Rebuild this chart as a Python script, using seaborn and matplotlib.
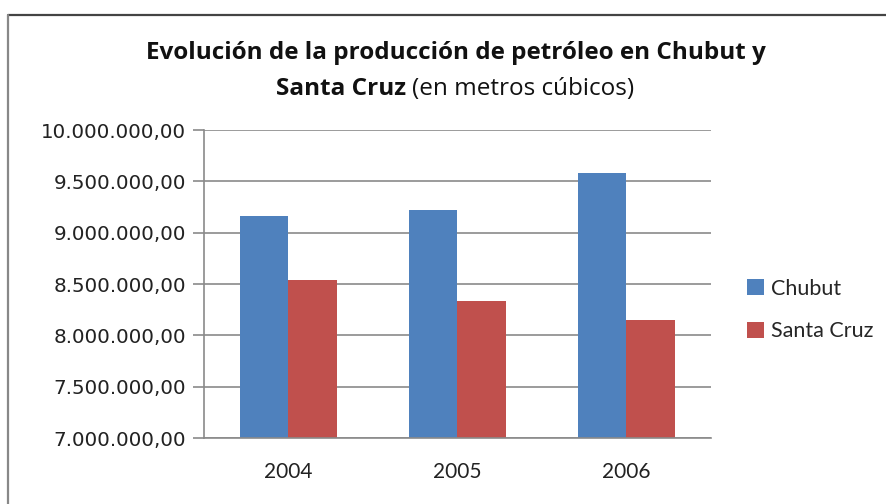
import matplotlib
matplotlib.use("Agg")
import matplotlib.pyplot as plt
import seaborn as sns
import pandas as pd
from matplotlib.lines import Line2D
from matplotlib.patches import Patch
from matplotlib.ticker import FuncFormatter

years = ["2004", "2005", "2006"]
chubut = [9162000, 9218000, 9584000]
santa_cruz = [8539000, 8334000, 8149000]
series_names = ["Chubut", "Santa Cruz"]
colors = ["#4F81BD", "#C0504D"]
yticks = [7000000, 7500000, 8000000, 8500000, 9000000, 9500000, 10000000]

df = pd.DataFrame({
    "Año": years * 2,
    "Serie": [series_names[0]] * 3 + [series_names[1]] * 3,
    "Valor": chubut + santa_cruz,
})

sns.set_style("white")
plt.rcParams["font.family"] = ["DejaVu Sans"]

fig = plt.figure(figsize=(8.87, 5.04), dpi=100)
ax = fig.add_axes([204 / 887, 1 - 438 / 504, (711 - 204) / 887, (438 - 130) / 504])

sns.barplot(data=df, x="Año", y="Valor", hue="Serie", palette=colors,
            width=0.57, gap=0, ax=ax, legend=False, saturation=1,
            edgecolor="none", linewidth=0)

ax.set_ylim(7000000, 10000000)
ax.set_xlim(-0.5, 2.5)
ax.set_yticks(yticks)
ax.yaxis.set_major_formatter(FuncFormatter(
    lambda v, p: f"{v:,.2f}".replace(",", "X").replace(".", ",").replace("X", ".")))
ax.set_xlabel("")
ax.set_ylabel("")
ax.set_axisbelow(True)
ax.grid(axis="y", color="#8a8a8a", linewidth=1.2)
for s in ["top", "right"]:
    ax.spines[s].set_visible(False)
for s in ["left", "bottom"]:
    ax.spines[s].set_color("#8a8a8a")
    ax.spines[s].set_linewidth(1.2)

ax.set_xticks([0, 1, 2])
ax.set_xticklabels(years, fontsize=15, family="Lato", color="#222222")
ax.set_xticks([-0.5, 0.5, 1.5, 2.5], minor=True)
ax.tick_params(axis="x", which="major", length=0, pad=17)
ax.tick_params(axis="x", which="minor", length=7, color="#8a8a8a", width=1.2, direction="out")
ax.tick_params(axis="y", length=8, color="#8a8a8a", width=1.2, direction="out",
               labelsize=14.3, labelcolor="#222222", pad=5, left=True)

handles = [Patch(facecolor=c, edgecolor="none") for c in colors]
fig.legend(handles, series_names, loc="center left",
           bbox_to_anchor=(728 / 887, 1 - 310 / 504), frameon=False,
           prop={"family": "Lato", "size": 15.5}, handlelength=0.75,
           handleheight=0.75, handletextpad=0.35, labelspacing=1.05)

# Title
fig.text(0.514, 1 - 53 / 504, "Evolución de la producción de petróleo en Chubut y",
         ha="center", va="center", fontsize=17.5, fontweight="bold",
         family="Open Sans", color="#111111")
fig.canvas.draw()
r = fig.canvas.get_renderer()
t1 = fig.text(0, 1 - 89 / 504, "Santa Cruz ", ha="left", va="center", fontsize=17.5,
              fontweight="bold", family="Open Sans", color="#111111")
t2 = fig.text(0, 1 - 89 / 504, "(en metros cúbicos)", ha="left", va="center",
              fontsize=17.5, family="Open Sans", color="#111111")
w1 = t1.get_window_extent(r).width
w2 = t2.get_window_extent(r).width
W = fig.bbox.width
start = 455 - (w1 + w2) / 2
t1.set_x(start / W)
t2.set_x((start + w1) / W)

# Outer chart border (top and left visible)
fig.add_artist(Line2D([8 / 887, 1.0], [1 - 15 / 504, 1 - 15 / 504],
                      transform=fig.transFigure, color="#444444", linewidth=1.6))
fig.add_artist(Line2D([8 / 887, 8 / 887], [0, 1 - 15 / 504],
                      transform=fig.transFigure, color="#888888", linewidth=1.6))

fig.savefig("out.png", dpi=100)
